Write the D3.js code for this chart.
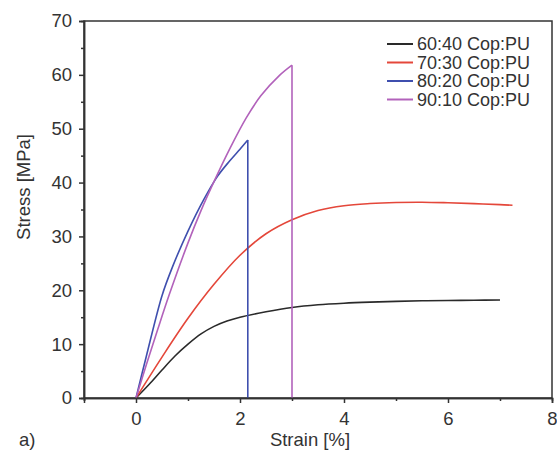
<!DOCTYPE html>
<html><head><meta charset="utf-8">
<script src="https://cdn.jsdelivr.net/npm/d3@7/dist/d3.min.js"></script>
<style>body{margin:0;background:#fff}svg{display:block}text{font-family:"Liberation Sans",Arial,sans-serif;fill:#333}</style>
</head><body><svg id="c" width="557" height="458"></svg>
<script>
const seriesNames = ["60:40 Cop:PU","70:30 Cop:PU","80:20 Cop:PU","90:10 Cop:PU"];
const seriesColors = ["#2a2a2a","#e4473a","#3f4fae","#b262bb"];
const s6040 = [[0,0],[0.25,2.5],[0.5,5.2],[0.75,7.8],[1,10.0],[1.25,11.9],[1.5,13.3],[1.75,14.3],[2,15.0],[2.5,16.0],[3,16.8],[3.5,17.3],[4,17.6],[4.5,17.8],[5,17.95],[5.5,18.05],[6,18.1],[6.5,18.15],[7,18.2]];
const s7030 = [[0,0],[0.5,7.6],[1,14.8],[1.5,21.1],[2,26.5],[2.5,30.5],[3,33.1],[3.5,34.8],[4,35.7],[4.5,36.1],[5,36.3],[5.5,36.35],[6,36.25],[6.5,36.1],[7,35.9],[7.24,35.8]];
const s8020 = [[0,0],[0.2,7.8],[0.5,19.0],[0.7,24.3],[1.0,31.0],[1.3,36.8],[1.57,41.2],[1.8,44.0],[2.0,46.2],[2.15,47.9],[2.15,0]];
const s9010 = [[0,0],[0.2,6.2],[0.42,12.8],[0.64,19.2],[1.0,28.8],[1.25,34.8],[1.54,41.0],[1.8,46.2],[2.12,52.0],[2.4,56.1],[2.76,59.9],[3.0,61.8],[3.0,0]];
const seriesData = [s6040,s7030,s8020,s9010];
const xTicks = [0,2,4,6,8];
const yTicks = [0,10,20,30,40,50,60,70];

const svg = d3.select("#c");
const x = d3.scaleLinear().domain([-1,8]).range([84,552]);
const y = d3.scaleLinear().domain([0,70]).range([398,21]);

svg.append("rect").attr("x",84).attr("y",21).attr("width",468).attr("height",377)
  .attr("fill","none").attr("stroke","#333").attr("stroke-width",1.5);

const line = d3.line().x(d=>x(d[0])).y(d=>y(d[1])).curve(d3.curveCatmullRom.alpha(0.5));
const lineSharp = d3.line().x(d=>x(d[0])).y(d=>y(d[1]));
seriesData.forEach((data,i)=>{
  const n = data.length;
  const hasDrop = n>1 && data[n-1][0]===data[n-2][0];
  const g = svg.append("g").attr("fill","none").attr("stroke",seriesColors[i]).attr("stroke-width",1.6);
  if(hasDrop){
    g.append("path").attr("d", line(data.slice(0,-1)));
    g.append("path").attr("d", lineSharp(data.slice(-2)));
  } else {
    g.append("path").attr("d", line(data));
  }
});

const fs = "18.5px";
const xAxis = d3.axisBottom(x).tickValues(xTicks).tickSize(5).tickPadding(9);
const xMinor = d3.axisBottom(x).tickValues([-1,1,3,5,7]).tickSize(3).tickFormat("");
const yAxis = d3.axisLeft(y).tickValues(yTicks).tickSize(5).tickPadding(7);
const yMinor = d3.axisLeft(y).tickValues([5,15,25,35,45,55,65]).tickSize(3).tickFormat("");
function style(g){
  g.select(".domain").attr("stroke","#333").attr("stroke-width",1.5);
  g.selectAll(".tick line").attr("stroke","#333").attr("stroke-width",1.5);
  g.selectAll(".tick text").attr("fill","#333").style("font-size",fs).style("font-family","'Liberation Sans',Arial,sans-serif");
}
svg.append("g").attr("transform","translate(0,398)").call(xAxis).call(style);
svg.append("g").attr("transform","translate(0,398)").call(xMinor).call(style);
svg.append("g").attr("transform","translate(84,0)").call(yAxis).call(style);
svg.append("g").attr("transform","translate(84,0)").call(yMinor).call(style);

svg.append("text").attr("x",310).attr("y",446).attr("text-anchor","middle").style("font-size",fs).text("Strain [%]");
svg.append("text").attr("transform","translate(30,187) rotate(-90)").attr("text-anchor","middle").style("font-size",fs).text("Stress [MPa]");
svg.append("text").attr("x",19).attr("y",446).style("font-size",fs).text("a)");

const legY = [44,62.5,81,99.5];
seriesNames.forEach((n,i)=>{
  svg.append("line").attr("x1",387).attr("x2",413).attr("y1",legY[i]).attr("y2",legY[i])
    .attr("stroke",seriesColors[i]).attr("stroke-width",2);
  svg.append("text").attr("x",417).attr("y",legY[i]).attr("dy","0.36em").style("font-size","18px").text(n);
});
</script></body></html>
